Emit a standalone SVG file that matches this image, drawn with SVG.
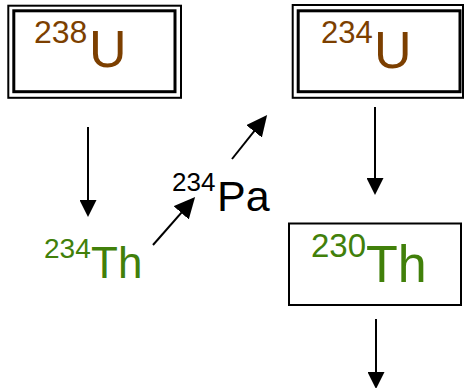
<svg xmlns="http://www.w3.org/2000/svg" width="464" height="388" viewBox="0 0 464 388">
<style>
text{font-family:"Liberation Sans",Arial,sans-serif}
.u{fill:#7c3f00}
.th{fill:#41800a}
.pa{fill:#000}
.box{fill:#fff;stroke:#000}
.conn line{stroke:#000;stroke-width:2}
</style>
<defs>
<marker id="ah" markerUnits="userSpaceOnUse" markerWidth="18" markerHeight="17" refX="13" refY="8.5" orient="auto">
<path d="M0,0 L17,8.5 L0,17 z" fill="#000"/>
</marker>
<marker id="ah2" markerUnits="userSpaceOnUse" markerWidth="22" markerHeight="20" refX="16" refY="10" orient="auto">
<path d="M0,0 L21,10 L0,20 z" fill="#000"/>
</marker>
</defs>
<rect width="464" height="388" fill="#fff"/>
<g id="n-u238">
<rect class="box" x="8.3" y="5.7" width="172.7" height="92.1" stroke-width="2"/>
<rect class="box" x="13.8" y="10.8" width="161.2" height="80.9" stroke-width="3"/>
<text class="u"><tspan x="34" y="43" font-size="32">238</tspan><tspan x="89" y="67" font-size="52">U</tspan></text>
</g>
<g id="n-u234">
<rect class="box" x="292.7" y="5" width="170.3" height="92.8" stroke-width="2"/>
<rect class="box" x="298.2" y="10.8" width="161.8" height="80.9" stroke-width="3"/>
<text class="u"><tspan x="321" y="43" font-size="31">234</tspan><tspan x="374" y="68" font-size="52">U</tspan></text>
</g>
<g id="n-th234">
<text class="th"><tspan x="44" y="258" font-size="28">234</tspan><tspan x="91" y="278" font-size="44">Th</tspan></text>
</g>
<g id="n-pa234">
<text class="pa"><tspan x="172" y="191" font-size="26">234</tspan><tspan x="217" y="211" font-size="43">Pa</tspan></text>
</g>
<g id="n-th230">
<rect class="box" x="289" y="223.5" width="172" height="81.5" stroke-width="2"/>
<text class="th"><tspan x="311" y="257" font-size="33">230</tspan><tspan x="366" y="282" font-size="52">Th</tspan></text>
</g>
<g class="conn" id="connectors">
<line x1="88" y1="127" x2="88" y2="213" marker-end="url(#ah)"/>
<line x1="153" y1="245" x2="191.8" y2="200.8" marker-end="url(#ah2)"/>
<line x1="232" y1="159" x2="264" y2="118.8" marker-end="url(#ah2)"/>
<line x1="375" y1="107" x2="375" y2="191" marker-end="url(#ah)"/>
<line x1="376" y1="319" x2="376" y2="385" marker-end="url(#ah)"/>
</g>
</svg>
